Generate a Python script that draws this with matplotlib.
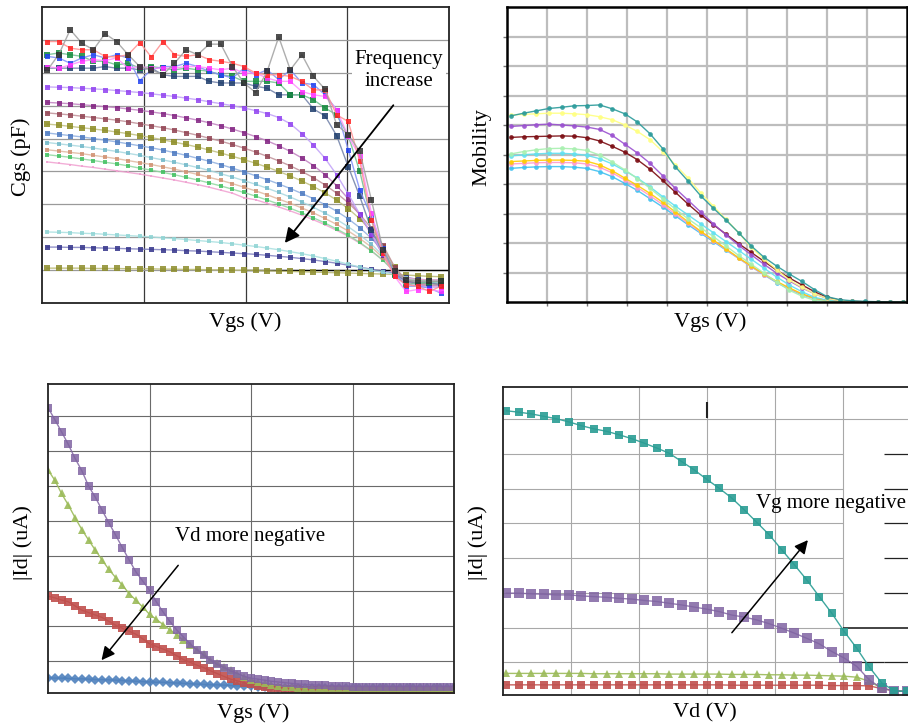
import numpy as np
import matplotlib
matplotlib.use('Agg')
import matplotlib.pyplot as plt

plt.rcParams['font.family'] = ['Liberation Serif', 'DejaVu Serif']

W, H = 908, 726

# ---------------- panel 1: Cgs vs Vgs (frequency sweep) ----------------
vgs_cgs = np.linspace(0.05, 3.92, 35)
cgs_gray = [7.07, 7.55, 8.31, 7.90, 7.70, 8.19, 7.95, 7.55, 7.19, 7.09, 6.94, 7.29, 7.70, 7.55, 7.87, 7.87, 7.19, 6.69,
            6.40, 7.04, 8.09, 7.09, 7.55, 6.89, 6.50, 5.42, 5.12, 4.61, 3.14, 1.62, 0.96, 0.71, 0.66, 0.66, 0.66]
cgs_red = [7.95, 7.95, 7.75, 7.70, 7.70, 7.50, 7.48, 7.55, 7.92, 7.48, 7.95, 7.55, 7.50, 7.55, 7.40, 7.35, 7.29, 7.19,
           6.99, 6.94, 6.94, 6.89, 6.74, 6.48, 6.48, 5.72, 5.52, 4.31, 2.53, 1.52, 0.81, 0.56, 0.51, 0.35, 0.51]
cgs_magenta = [7.19, 7.14, 7.24, 7.35, 7.40, 7.37, 7.45, 7.14, 7.19, 7.14, 7.14, 7.14, 7.19, 7.19, 7.14, 7.09, 7.14, 6.99,
               6.99, 6.84, 6.74, 6.74, 6.43, 6.33, 6.28, 5.88, 5.07, 4.46, 2.74, 1.52, 0.81, 0.35, 0.41, 0.41, 0.35]
cgs_blue = [7.50, 7.45, 7.29, 7.45, 7.55, 7.45, 7.55, 7.45, 6.76, 7.09, 7.19, 7.19, 7.29, 7.19, 7.04, 6.94, 6.84, 7.14,
            6.94, 7.09, 6.79, 7.09, 6.69, 6.64, 6.33, 5.88, 4.66, 3.44, 2.63, 1.67, 0.91, 0.51, 0.51, 0.46, 0.30]
cgs_green = [7.55, 7.60, 7.55, 7.50, 7.35, 7.35, 7.24, 7.29, 7.14, 7.19, 7.14, 7.09, 7.14, 7.09, 7.04, 6.94, 6.89, 6.74,
             6.74, 6.74, 6.69, 6.33, 6.33, 6.18, 5.93, 5.72, 5.09, 4.00, 2.53, 1.52, 0.86, 0.56, 0.61, 0.63, 0.66]
cgs_navy = [7.14, 7.14, 7.14, 7.14, 7.14, 7.19, 7.14, 7.14, 7.09, 7.14, 6.94, 6.89, 6.89, 6.89, 6.74, 6.69, 6.69, 6.69,
            6.59, 6.53, 6.33, 6.33, 6.33, 5.90, 5.69, 5.09, 4.15, 3.24, 2.23, 1.52, 0.89, 0.66, 0.61, 0.61, 0.56]
cgs_violet = [6.57, 6.56, 6.55, 6.53, 6.51, 6.49, 6.46, 6.43, 6.40, 6.36, 6.32, 6.28, 6.23, 6.18, 6.12, 6.06, 6.00, 5.93,
              5.85, 5.76, 5.64, 5.45, 5.15, 4.80, 4.40, 3.90, 3.32, 2.70, 2.10, 1.50, 0.92, 0.60, 0.50, 0.48, 0.48]
cgs_purple = [6.10, 6.08, 6.06, 6.03, 6.00, 5.97, 5.94, 5.90, 5.86, 5.81, 5.76, 5.70, 5.63, 5.56, 5.48, 5.39, 5.29, 5.18,
              5.06, 4.93, 4.78, 4.61, 4.41, 4.18, 3.90, 3.57, 3.17, 2.68, 2.08, 1.45, 0.95, 0.65, 0.55, 0.52, 0.52]
cgs_maroon = [5.78, 5.75, 5.72, 5.68, 5.64, 5.60, 5.56, 5.51, 5.45, 5.39, 5.33, 5.26, 5.18, 5.10, 5.01, 4.92, 4.82, 4.71,
              4.59, 4.46, 4.32, 4.17, 4.00, 3.81, 3.59, 3.34, 3.05, 2.70, 2.27, 1.76, 1.10, 0.68, 0.58, 0.55, 0.54]
cgs_olive = [5.44, 5.41, 5.37, 5.33, 5.29, 5.25, 5.20, 5.15, 5.09, 5.03, 4.96, 4.89, 4.82, 4.74, 4.65, 4.56, 4.46, 4.36,
             4.25, 4.13, 4.00, 3.86, 3.71, 3.54, 3.35, 3.13, 2.87, 2.56, 2.18, 1.70, 1.08, 0.70, 0.60, 0.58, 0.57]
cgs_steel = [5.17, 5.13, 5.09, 5.05, 5.00, 4.95, 4.90, 4.84, 4.78, 4.72, 4.65, 4.57, 4.49, 4.40, 4.31, 4.21, 4.10, 3.99,
             3.87, 3.75, 3.62, 3.48, 3.33, 3.17, 2.99, 2.79, 2.56, 2.29, 1.97, 1.58, 1.05, 0.72, 0.63, 0.60, 0.60]
cgs_teal = [4.88, 4.84, 4.80, 4.76, 4.71, 4.66, 4.61, 4.55, 4.49, 4.42, 4.35, 4.28, 4.20, 4.12, 4.03, 3.93, 3.83, 3.72,
            3.61, 3.49, 3.36, 3.22, 3.07, 2.91, 2.73, 2.54, 2.32, 2.07, 1.79, 1.44, 1.00, 0.72, 0.65, 0.62, 0.62]
cgs_tan = [4.66, 4.62, 4.58, 4.54, 4.49, 4.44, 4.39, 4.33, 4.27, 4.21, 4.14, 4.07, 3.99, 3.91, 3.82, 3.73, 3.63, 3.52,
           3.41, 3.29, 3.16, 3.03, 2.89, 2.74, 2.57, 2.39, 2.19, 1.96, 1.70, 1.38, 0.98, 0.72, 0.66, 0.64, 0.63]
cgs_lgreen = [4.51, 4.47, 4.43, 4.38, 4.33, 4.28, 4.23, 4.17, 4.10, 4.04, 3.97, 3.90, 3.82, 3.74, 3.65, 3.56, 3.46, 3.36,
              3.25, 3.13, 3.01, 2.88, 2.74, 2.59, 2.43, 2.25, 2.06, 1.84, 1.59, 1.30, 0.95, 0.72, 0.68, 0.66, 0.65]
cgs_pink = [4.29, 4.25, 4.21, 4.16, 4.12, 4.07, 4.02, 3.97, 3.92, 3.86, 3.80, 3.74, 3.67, 3.60, 3.52, 3.43, 3.34, 3.20,
            3.14, 3.03, 2.92, 2.80, 2.67, 2.53, 2.38, 2.21, 2.03, 1.82, 1.58, 1.30, 0.95, 0.75, 0.72, 0.70, 0.70]
cgs_cyan = [2.16, 2.15, 2.14, 2.12, 2.11, 2.09, 2.07, 2.05, 2.03, 2.01, 1.98, 1.96, 1.93, 1.90, 1.87, 1.84, 1.80, 1.76,
            1.72, 1.67, 1.62, 1.56, 1.50, 1.43, 1.35, 1.27, 1.18, 1.09, 1.00, 0.93, 0.88, 0.75, 0.70, 0.68, 0.68]
cgs_indigo = [1.70, 1.70, 1.69, 1.69, 1.68, 1.67, 1.66, 1.65, 1.64, 1.63, 1.62, 1.61, 1.59, 1.58, 1.56, 1.54, 1.52, 1.50,
              1.48, 1.45, 1.42, 1.39, 1.35, 1.31, 1.26, 1.21, 1.15, 1.09, 1.03, 0.97, 0.91, 0.78, 0.72, 0.70, 0.70]
cgs_khaki = [1.06, 1.06, 1.06, 1.06, 1.05, 1.05, 1.05, 1.04, 1.04, 1.04, 1.03, 1.03, 1.02, 1.02, 1.01, 1.01, 1.00, 1.00,
             0.99, 0.98, 0.97, 0.96, 0.95, 0.94, 0.93, 0.92, 0.91, 0.90, 0.89, 0.88, 0.87, 0.85, 0.83, 0.81, 0.80]

# ---------------- panel 2: mobility vs Vgs ----------------
vgs_mob = np.linspace(0.1, 9.9, 32)
mob_teal = [6.31, 6.40, 6.48, 6.56, 6.60, 6.65, 6.66, 6.68, 6.55, 6.38, 6.10, 5.70, 5.20, 4.58, 4.10, 3.60,
            3.18, 2.78, 2.35, 1.90, 1.52, 1.22, 0.95, 0.70, 0.42, 0.18, 0.08, 0.04, 0.02, 0.01, 0.00, 0.00]
mob_yellow = [6.34, 6.36, 6.38, 6.40, 6.40, 6.38, 6.35, 6.28, 6.18, 6.00, 5.78, 5.50, 5.10, 4.65, 4.20, 3.70,
              3.25, 2.80, 2.35, 1.85, 1.45, 1.10, 0.75, 0.50, 0.28, 0.12, 0.05, 0.02, 0.01, 0.00, 0.00, 0.00]
mob_purple = [5.95, 5.98, 6.01, 6.03, 6.00, 5.97, 5.93, 5.85, 5.65, 5.35, 5.05, 4.70, 4.28, 3.85, 3.45, 3.05,
              2.65, 2.28, 1.92, 1.60, 1.28, 0.98, 0.72, 0.48, 0.28, 0.12, 0.05, 0.02, 0.01, 0.00, 0.00, 0.00]
mob_darkred = [5.58, 5.60, 5.61, 5.62, 5.63, 5.62, 5.57, 5.46, 5.28, 5.08, 4.82, 4.50, 4.12, 3.72, 3.32, 2.95,
               2.62, 2.30, 1.98, 1.68, 1.38, 1.08, 0.82, 0.58, 0.35, 0.16, 0.06, 0.02, 0.01, 0.00, 0.00, 0.00]
mob_lgreen = [5.02, 5.10, 5.16, 5.20, 5.21, 5.19, 5.14, 4.98, 4.75, 4.48, 4.18, 3.85, 3.50, 3.15, 2.82, 2.52,
              2.22, 1.90, 1.58, 1.28, 0.98, 0.68, 0.40, 0.20, 0.06, 0.02, 0.01, 0.00, 0.00, 0.00, 0.00, 0.00]
mob_cyan = [4.95, 4.99, 5.02, 5.04, 5.04, 5.02, 4.97, 4.86, 4.68, 4.45, 4.20, 3.90, 3.57, 3.25, 2.95, 2.65,
            2.35, 2.05, 1.75, 1.45, 1.15, 0.85, 0.58, 0.35, 0.16, 0.06, 0.02, 0.01, 0.00, 0.00, 0.00, 0.00]
mob_orange = [4.76, 4.78, 4.80, 4.81, 4.81, 4.80, 4.77, 4.65, 4.45, 4.20, 3.95, 3.68, 3.38, 3.05, 2.72, 2.40,
              2.10, 1.80, 1.50, 1.22, 0.95, 0.70, 0.48, 0.28, 0.13, 0.05, 0.02, 0.01, 0.00, 0.00, 0.00, 0.00]
mob_pink = [4.68, 4.70, 4.72, 4.73, 4.73, 4.72, 4.68, 4.57, 4.38, 4.14, 3.88, 3.60, 3.30, 2.98, 2.67, 2.37,
            2.08, 1.78, 1.48, 1.20, 0.93, 0.68, 0.46, 0.27, 0.12, 0.05, 0.02, 0.01, 0.00, 0.00, 0.00, 0.00]
mob_skyblue = [4.53, 4.56, 4.58, 4.59, 4.59, 4.57, 4.53, 4.42, 4.25, 4.02, 3.78, 3.50, 3.22, 2.92, 2.62, 2.33,
               2.05, 1.76, 1.48, 1.20, 0.92, 0.66, 0.44, 0.25, 0.11, 0.04, 0.02, 0.01, 0.00, 0.00, 0.00, 0.00]

# ---------------- panel 3: |Id| vs Vgs ----------------
vgs_id = np.linspace(0, 4, 61)
id_vd1 = [0.53, 0.52, 0.52, 0.51, 0.50, 0.50, 0.49, 0.48, 0.48, 0.47, 0.46, 0.45, 0.44, 0.43, 0.42, 0.41,
          0.40, 0.40, 0.39, 0.38, 0.37, 0.36, 0.35, 0.34, 0.33, 0.33, 0.32, 0.31, 0.30, 0.30, 0.29, 0.28,
          0.27, 0.26, 0.25, 0.25, 0.24, 0.24, 0.24, 0.24, 0.23, 0.23, 0.23, 0.23, 0.23, 0.23, 0.23, 0.23,
          0.23, 0.23, 0.23, 0.23, 0.23, 0.23, 0.23, 0.23, 0.23, 0.23, 0.23, 0.23, 0.23]
id_vd2 = [2.86, 2.81, 2.75, 2.70, 2.58, 2.46, 2.39, 2.32, 2.25, 2.14, 2.03, 1.94, 1.86, 1.77, 1.64, 1.50,
          1.42, 1.35, 1.27, 1.16, 1.05, 0.97, 0.89, 0.82, 0.73, 0.65, 0.57, 0.49, 0.44, 0.39, 0.34, 0.30,
          0.27, 0.25, 0.23, 0.22, 0.21, 0.20, 0.19, 0.19, 0.19, 0.19, 0.19, 0.19, 0.19, 0.19, 0.19, 0.19,
          0.19, 0.19, 0.19, 0.19, 0.19, 0.19, 0.19, 0.19, 0.19, 0.19, 0.19, 0.19, 0.19]
id_vd3 = [6.46, 6.17, 5.79, 5.46, 5.10, 4.76, 4.46, 4.17, 3.89, 3.62, 3.39, 3.17, 2.93, 2.74, 2.55, 2.34,
          2.20, 2.05, 1.90, 1.76, 1.60, 1.46, 1.33, 1.20, 1.05, 0.95, 0.84, 0.74, 0.65, 0.56, 0.48, 0.42,
          0.37, 0.33, 0.30, 0.28, 0.26, 0.25, 0.24, 0.24, 0.24, 0.24, 0.24, 0.24, 0.24, 0.24, 0.24, 0.24,
          0.24, 0.24, 0.24, 0.24, 0.24, 0.24, 0.24, 0.24, 0.24, 0.24, 0.24, 0.24, 0.24]
id_vd4 = [8.24, 7.90, 7.55, 7.19, 6.79, 6.44, 6.00, 5.68, 5.31, 4.95, 4.60, 4.24, 3.89, 3.55, 3.29, 3.03,
          2.70, 2.41, 2.14, 1.90, 1.70, 1.50, 1.33, 1.17, 1.03, 0.91, 0.82, 0.72, 0.65, 0.57, 0.52, 0.49,
          0.46, 0.43, 0.41, 0.39, 0.37, 0.35, 0.34, 0.33, 0.32, 0.31, 0.30, 0.29, 0.29, 0.28, 0.28, 0.28,
          0.28, 0.28, 0.28, 0.28, 0.28, 0.28, 0.28, 0.28, 0.28, 0.28, 0.28, 0.28, 0.28]

# ---------------- panel 4: |Id| vs Vd ----------------
vd_id = np.linspace(0.05, 5.94, 33)
id_vg1 = [0.35, 0.35, 0.35, 0.35, 0.35, 0.35, 0.35, 0.35, 0.35, 0.35, 0.35, 0.35, 0.35, 0.35, 0.35, 0.35, 0.35,
          0.35, 0.34, 0.34, 0.34, 0.34, 0.34, 0.34, 0.34, 0.34, 0.33, 0.33, 0.33, 0.32, 0.24, 0.18, 0.16]
id_vg2 = [0.68, 0.68, 0.68, 0.68, 0.68, 0.68, 0.68, 0.67, 0.67, 0.67, 0.67, 0.67, 0.67, 0.66, 0.66, 0.66, 0.66,
          0.66, 0.65, 0.65, 0.65, 0.64, 0.64, 0.63, 0.63, 0.62, 0.61, 0.60, 0.57, 0.45, 0.25, 0.18, 0.16]
id_vg3 = [2.99, 2.99, 2.97, 2.96, 2.94, 2.94, 2.91, 2.89, 2.87, 2.84, 2.82, 2.78, 2.75, 2.70, 2.65, 2.59, 2.53,
          2.46, 2.36, 2.30, 2.22, 2.11, 1.98, 1.84, 1.69, 1.53, 1.31, 1.12, 0.88, 0.49, 0.25, 0.18, 0.16]
id_vg4 = [8.24, 8.20, 8.15, 8.08, 8.01, 7.92, 7.81, 7.72, 7.65, 7.55, 7.44, 7.31, 7.17, 7.02, 6.78, 6.54, 6.27,
          6.01, 5.73, 5.39, 5.03, 4.67, 4.24, 3.81, 3.37, 2.89, 2.41, 1.88, 1.40, 0.86, 0.40, 0.18, 0.16]


def px_rect(left, top, right, bottom):
    return [left / W, 1 - bottom / H, (right - left) / W, (bottom - top) / H]


def blank_axes(ax):
    ax.set_xticklabels([])
    ax.set_yticklabels([])
    ax.tick_params(length=0)


fig = plt.figure(figsize=(W / 100, H / 100), dpi=100)

# ---- panel 1 ----
ax1 = fig.add_axes(px_rect(42, 7, 449, 303))
ax1.set_xlim(0, 4)
ax1.set_ylim(0, 9)
ax1.set_xticks([1, 2, 3])
ax1.set_yticks(range(1, 9))
blank_axes(ax1)
ax1.grid(axis='x', color='#3a3a3a', lw=0.9)
ax1.grid(axis='y', color='#9a9a9a', lw=0.9)
ax1.set_axisbelow(True)
ax1.hlines(1, 2, 4, color='black', lw=1.0, zorder=1)
for s in ax1.spines.values():
    s.set_color('#222222')
    s.set_linewidth(1.3)

cgs_series = [
    (cgs_khaki, '#8c8c2a', '#b8b870', 4.5),
    (cgs_indigo, '#33338a', '#8080c0', 3.6),
    (cgs_cyan, '#8fd4d4', '#a8e0e0', 2.8),
    (cgs_pink, '#f0a0d0', '#f0a0d0', 2.0),
    (cgs_lgreen, '#40c060', '#90d8a0', 3.4),
    (cgs_tan, '#d09070', '#e0b8a0', 3.4),
    (cgs_teal, '#70b8c8', '#a8d8e0', 3.4),
    (cgs_steel, '#4a78c0', '#90b0e0', 3.6),
    (cgs_olive, '#8a8a20', '#c0c080', 3.8),
    (cgs_maroon, '#904050', '#c09098', 3.6),
    (cgs_purple, '#802080', '#c080c0', 3.6),
    (cgs_violet, '#9040f0', '#c0a0f8', 3.6),
    (cgs_navy, '#1a3a6a', '#7080a8', 3.8),
    (cgs_green, '#10883a', '#70c090', 3.8),
    (cgs_blue, '#2040f0', '#8090f8', 3.6),
    (cgs_magenta, '#ff30ff', '#ff90ff', 3.6),
    (cgs_red, '#ff2020', '#ff9090', 3.6),
    (cgs_gray, '#303030', '#a0a0a0', 3.8),
]
for vals, mcol, lcol, ms in cgs_series:
    ax1.plot(vgs_cgs, vals, color=lcol, lw=1.0, marker='s', ms=ms, mfc=mcol, mec=mcol, mew=0, alpha=0.85)

ax1.text(3.51, 7.07, 'Frequency\nincrease', ha='center', va='center', fontsize=15, linespacing=1.15,
         bbox=dict(facecolor='white', edgecolor='none', pad=2), zorder=5)
ax1.annotate('', xy=(2.37, 1.76), xytext=(3.47, 6.08),
             arrowprops=dict(arrowstyle='-|>', color='black', lw=1.3, mutation_scale=22), zorder=6)

# ---- panel 2 ----
ax2 = fig.add_axes(px_rect(507, 7, 907, 302))
ax2.set_xlim(0, 10)
ax2.set_ylim(0, 10)
ax2.set_xticks(range(1, 10))
ax2.set_yticks(range(1, 10))
ax2.set_xticklabels([])
ax2.set_yticklabels([])
ax2.tick_params(direction='out', length=3, width=1, color='#777777')
ax2.grid(color='#bdbdbd', lw=1.6)
ax2.set_axisbelow(True)
for s in ax2.spines.values():
    s.set_color('black')
    s.set_linewidth(1.8)

mob_series = [
    (mob_skyblue, '#40c0f0'),
    (mob_pink, '#ff99cc'),
    (mob_orange, '#ffcc00'),
    (mob_cyan, '#60e0f0'),
    (mob_lgreen, '#a8f0b0'),
    (mob_darkred, '#7a0a10'),
    (mob_purple, '#9a50d0'),
    (mob_yellow, '#ffff80'),
    (mob_teal, '#2a9a9a'),
]
for vals, col in mob_series:
    ax2.plot(vgs_mob, vals, color=col, lw=1.0, marker='o', ms=3.4, mfc=col, mec=col, mew=0, alpha=0.9)

# ---- panel 3 ----
ax3 = fig.add_axes(px_rect(48, 384, 454, 693))
ax3.set_xlim(0, 4)
ax3.set_ylim(0.095, 8.914)
ax3.set_xticks([1, 2, 3])
ax3.set_yticks(range(1, 9))
blank_axes(ax3)
ax3.grid(color='#6a6a6a', lw=0.8)
ax3.set_axisbelow(True)
for s in ax3.spines.values():
    s.set_color('#222222')
    s.set_linewidth(1.3)

ax3.plot(vgs_id, id_vd1, color='#4f81bd', lw=1.0, marker='D', ms=5.2, mew=0, alpha=0.9)
ax3.plot(vgs_id, id_vd2, color='#c0504d', lw=1.0, marker='s', ms=6.2, mew=0, alpha=0.9)
ax3.plot(vgs_id, id_vd3, color='#9bbb59', lw=1.0, marker='^', ms=5.8, mew=0, alpha=0.9)
ax3.plot(vgs_id, id_vd4, color='#8064a2', lw=1.0, marker='s', ms=6.4, mew=0, alpha=0.85)

ax3.text(1.99, 4.57, 'Vd more negative', ha='center', va='center', fontsize=15)
ax3.annotate('', xy=(0.51, 0.97), xytext=(1.30, 3.80),
             arrowprops=dict(arrowstyle='-|>', color='black', lw=1.1, mutation_scale=20))

# ---- panel 4 ----
ax4 = fig.add_axes(px_rect(503, 387, 911, 695))
ax4.set_xlim(0, 6)
ax4.set_ylim(0.058, 8.925)
blank_axes(ax4)
ax4.set_xticks([])
ax4.set_yticks([])
grid_kw = dict(color='#a8a8a8', lw=0.8, zorder=0)
ax4.vlines([1, 2, 3, 4, 5], 0.058, 8.925, **grid_kw)
ax4.hlines(8, 0, 6, **grid_kw)
ax4.hlines([1, 2, 3, 4, 5, 6, 7], 0, 5, **grid_kw)
ax4.hlines([1, 3, 4, 5, 6, 7], 5.6, 6, color='#222222', lw=0.9, zorder=0)
ax4.hlines(2, 5, 6, color='#222222', lw=1.2, zorder=0)
ax4.hlines(1, 5, 5.6, color='#222222', lw=0.9, zorder=0)
ax4.vlines(3, 8.03, 8.5, color='#222222', lw=1.5, zorder=0)
for s in ax4.spines.values():
    s.set_color('#222222')
    s.set_linewidth(1.3)
ax4.spines['right'].set_visible(False)

ax4.plot(vd_id, id_vg1, color='#c0504d', lw=1.0, marker='s', ms=6.0, mew=0, alpha=0.9)
ax4.plot(vd_id, id_vg2, color='#9bbb59', lw=1.0, marker='^', ms=5.8, mew=0, alpha=0.9)
ax4.plot(vd_id, id_vg3, color='#8064a2', lw=1.0, marker='s', ms=6.6, mew=0, alpha=0.85)
ax4.plot(vd_id, id_vg4, color='#2a9d94', lw=1.0, marker='s', ms=6.0, mew=0, alpha=0.9)

ax4.text(4.82, 5.56, 'Vg more negative', ha='center', va='center', fontsize=15)
ax4.annotate('', xy=(4.51, 4.58), xytext=(3.34, 1.79),
             arrowprops=dict(arrowstyle='-|>', color='black', lw=1.1, mutation_scale=20))

# ---- axis labels ----
lab = dict(fontsize=16, ha='center', va='center')
fig.text(245 / W, 1 - 322 / H, 'Vgs (V)', **lab)
fig.text(21 / W, 1 - 157 / H, 'Cgs (pF)', rotation=90, **lab)
fig.text(710 / W, 1 - 322 / H, 'Vgs (V)', **lab)
fig.text(482 / W, 1 - 147 / H, 'Mobility', rotation=90, **lab)
fig.text(253 / W, 1 - 713 / H, 'Vgs (V)', **lab)
fig.text(23 / W, 1 - 543 / H, '|Id| (uA)', rotation=90, **lab)
fig.text(705 / W, 1 - 713 / H, 'Vd (V)', **lab)
fig.text(478 / W, 1 - 543 / H, '|Id| (uA)', rotation=90, **lab)

fig.savefig('out.png', dpi=100)
plt.close(fig)
